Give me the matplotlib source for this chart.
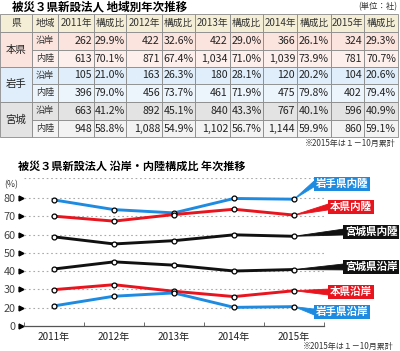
import matplotlib.pyplot as plt
from matplotlib.patches import Rectangle, Polygon

plt.rcParams['font.family'] = ['Noto Sans CJK JP', 'DejaVu Sans']

years = [2011, 2012, 2013, 2014, 2015]

# counts (社)
honken_coast_n = [262, 422, 422, 366, 324]
honken_inland_n = [613, 871, 1034, 1039, 781]
iwate_coast_n = [105, 163, 180, 120, 104]
iwate_inland_n = [396, 456, 461, 475, 402]
miyagi_coast_n = [663, 892, 840, 767, 596]
miyagi_inland_n = [948, 1088, 1102, 1144, 860]

# shares (%)
honken_coast = [29.9, 32.6, 29.0, 26.1, 29.3]
honken_inland = [70.1, 67.4, 71.0, 73.9, 70.7]
iwate_coast = [21.0, 26.3, 28.1, 20.2, 20.6]
iwate_inland = [79.0, 73.7, 71.9, 79.8, 79.4]
miyagi_coast = [41.2, 45.1, 43.3, 40.1, 40.9]
miyagi_inland = [58.8, 54.9, 56.7, 59.9, 59.1]

prefs = ['本県', '岩手', '宮城']
areas = ['沿岸', '内陸']
header = ['県', '地域'] + [s for y in years for s in (f'{y}年', '構成比')]

BLUE = '#1e8be0'
RED = '#e8141e'
BLACK = '#111111'

fig = plt.figure(figsize=(4.0, 3.51), dpi=100)

# ---- table (pixel coordinates) ----
tb = fig.add_axes([0, 0, 1, 1])
tb.set_xlim(0, 400)
tb.set_ylim(351, 0)
tb.axis('off')

tb.text(12, 7, '被災３県新設法人 地域別年次推移', fontsize=8.3, fontweight='bold', va='center')
tb.text(397, 7, '(単位：社)', fontsize=6, ha='right', va='center', color='#333')

col_edges = [0, 32, 58, 94, 126, 162, 195, 230, 263, 297, 331, 364, 398]
row_edges = [14, 32, 50, 67, 84, 102, 120, 137]
grid_c = '#8a8a8a'

rows_n = [honken_coast_n, honken_inland_n, iwate_coast_n, iwate_inland_n, miyagi_coast_n, miyagi_inland_n]
rows_p = [honken_coast, honken_inland, iwate_coast, iwate_inland, miyagi_coast, miyagi_inland]
group_cols = [('#fbe4de', '#fdf0ec'), ('#dfeefa', '#edf5fc'), ('#e3e3e3', '#f3f3f3')]

# header
for c in range(12):
    x0, x1 = col_edges[c], col_edges[c + 1]
    tb.add_patch(Rectangle((x0, row_edges[0]), x1 - x0, row_edges[1] - row_edges[0],
                           facecolor='#f4eed6', edgecolor=grid_c, lw=0.6))
    tb.text((x0 + x1) / 2, (row_edges[0] + row_edges[1]) / 2, header[c],
            fontsize=7, ha='center', va='center', color='#333')

for r in range(6):
    g = r // 2
    y0, y1 = row_edges[r + 1], row_edges[r + 2]
    fc = group_cols[g][r % 2]
    for c in range(1, 12):
        x0, x1 = col_edges[c], col_edges[c + 1]
        tb.add_patch(Rectangle((x0, y0), x1 - x0, y1 - y0, facecolor=fc, edgecolor=grid_c, lw=0.6))
    ym = (y0 + y1) / 2
    tb.text((col_edges[1] + col_edges[2]) / 2, ym, areas[r % 2], fontsize=6.6,
            ha='center', va='center', color='#333')
    for i in range(5):
        cn = 2 + 2 * i
        tb.text(col_edges[cn + 1] - 2, ym, f'{rows_n[r][i]:,}', fontsize=7.6,
                ha='right', va='center', color='#222')
        tb.text((col_edges[cn + 1] + col_edges[cn + 2]) / 2, ym, f'{rows_p[r][i]:.1f}%',
                fontsize=7.6, ha='center', va='center', color='#222')

for g in range(3):
    y0, y1 = row_edges[1 + 2 * g], row_edges[3 + 2 * g]
    tb.add_patch(Rectangle((0, y0), col_edges[1], y1 - y0, facecolor=group_cols[g][0],
                           edgecolor=grid_c, lw=0.6))
    tb.text(col_edges[1] / 2, (y0 + y1) / 2, prefs[g], fontsize=7.5, ha='center', va='center', color='#222')

tb.text(396, 143, '※2015年は１－10月累計', fontsize=5.8, ha='right', va='center', color='#333')
tb.text(18, 166, '被災３県新設法人 沿岸・内陸構成比 年次推移', fontsize=8, fontweight='bold', va='center')
tb.text(4, 185, '(%)', fontsize=6.3, va='center', color='#333')
tb.text(394, 346, '※2015年は１－10月累計', fontsize=5.8, ha='right', va='center', color='#333')

# ---- line chart ----
ax = fig.add_axes([24 / 400, 25 / 351, 300 / 400, 148 / 351])
ax.patch.set_alpha(0)
ax.set_xlim(2010.5, 2015.5)
ax.set_ylim(10, 91)
for s in ['top', 'right', 'left']:
    ax.spines[s].set_visible(False)
ax.spines['bottom'].set_color('#555')
ax.spines['bottom'].set_linewidth(0.9)

for v in [20, 30, 40, 50, 60, 70, 80, 91]:
    ax.axhline(v, color='#aaaaaa', lw=0.8, ls=(0, (1.5, 2.5)), zorder=0)

yt = [10, 20, 30, 40, 50, 60, 70, 80]
ax.set_yticks(yt)
ax.set_yticklabels(['0'] + [str(v) for v in yt[1:]], fontsize=7.8, color='#444')
ax.tick_params(axis='y', length=0, pad=6)
ax.plot([2010.45] * len(yt), yt, ls='none', marker='>', ms=3.5, color='k', clip_on=False)

ax.set_xticks(years)
ax.set_xticklabels([f'{y}年' for y in years], fontsize=7.2, color='#222')
ax.set_xticks([2010.5, 2011.5, 2012.5, 2013.5, 2014.5, 2015.5], minor=True)
ax.tick_params(axis='x', which='major', length=0, pad=4)
ax.tick_params(axis='x', which='minor', length=3, direction='in', color='#555')


def px2x(px):
    return 2010.5 + (px - 24) / 60.0


series = [
    ('岩手県内陸', iwate_inland, BLUE, 87.7, 314),
    ('本県内陸', honken_inland, RED, 75.1, 328),
    ('宮城県内陸', miyagi_inland, BLACK, 61.4, 343),
    ('宮城県沿岸', miyagi_coast, BLACK, 42.3, 343),
    ('本県沿岸', honken_coast, RED, 28.6, 328),
    ('岩手県沿岸', iwate_coast, BLUE, 17.7, 314),
]

for name, vals, col, ly, bx in series:
    ax.plot(years, vals, color=col, lw=2.1, zorder=3, clip_on=False)
    xb = px2x(bx)
    ax.add_patch(Polygon([(years[-1], vals[-1]), (xb, ly - 1.6), (xb, ly + 1.6)],
                         closed=True, facecolor=col, edgecolor=col, lw=0.6, clip_on=False, zorder=3))
    ax.text(px2x(bx + 2), ly, name, fontsize=7.6, fontweight='bold', color='white',
            ha='left', va='center', zorder=5, clip_on=False,
            bbox=dict(boxstyle='square,pad=0.15', facecolor=col, edgecolor='none'))
    ax.plot(years, vals, ls='none', marker='o', ms=3.5, mfc='white', mec='k', mew=0.9,
            zorder=4, clip_on=False)

fig.savefig('out.png', dpi=100)
